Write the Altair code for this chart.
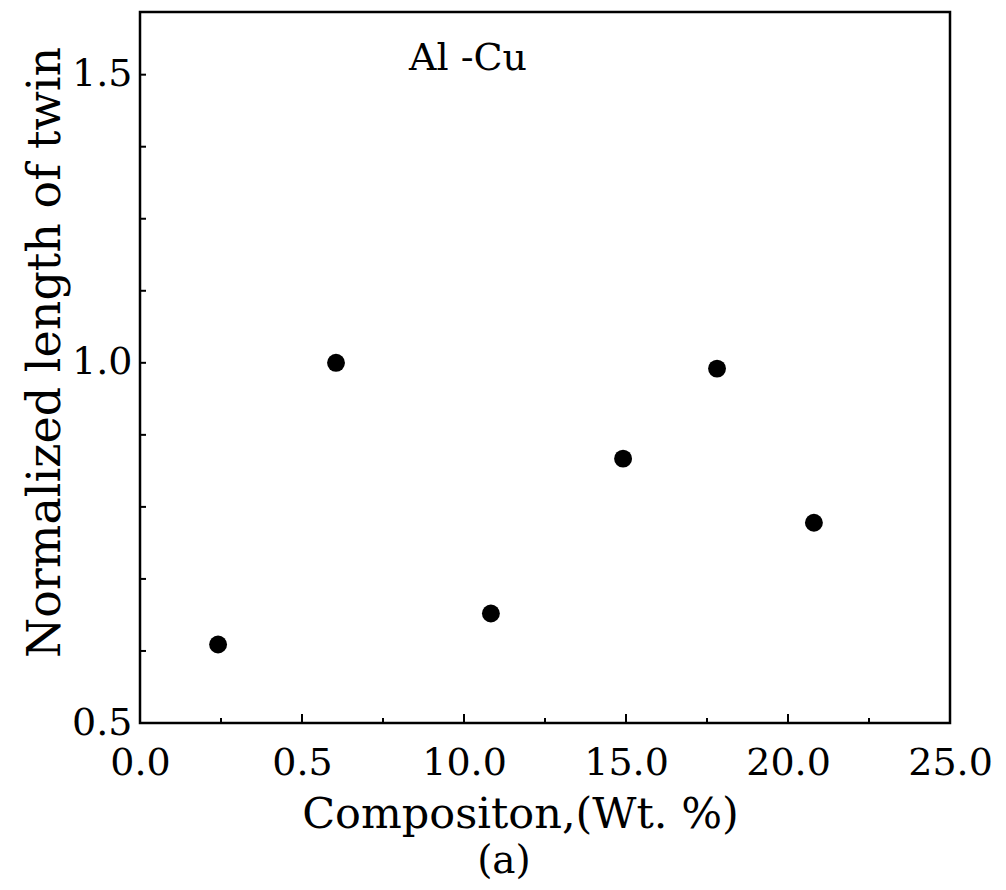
import altair as alt
import pandas as pd

# Data
composition = [2.41, 6.05, 10.83, 14.91, 17.81, 20.80]
norm_length = [0.609, 1.0, 0.652, 0.867, 0.992, 0.778]

x_label_values = [0, 5, 10, 15, 20, 25]
y_label_values = [0.5, 1.0, 1.4]
x_major_ticks = [5, 10, 15, 20]
x_minor_ticks = [2.5, 7.5, 12.5, 17.5, 22.5]
y_tick_values = [0.6, 0.7, 0.8, 0.9, 1.0, 1.1, 1.2, 1.3, 1.4]

W, H = 810, 711
FONT = "DejaVu Serif"

pts = pd.DataFrame({"x": composition, "y": norm_length})
xmaj = pd.DataFrame({"x": x_major_ticks})
xmin = pd.DataFrame({"x": x_minor_ticks})
yt = pd.DataFrame({"y": y_tick_values})

xscale = alt.Scale(domain=[0, 25], nice=False, zero=False)
yscale = alt.Scale(domain=[0.5, 1.487], nice=False, zero=False)

points = alt.Chart(pts).mark_point(filled=True, color="black", opacity=1, size=320).encode(
    x=alt.X("x:Q", scale=xscale, axis=alt.Axis(
        values=x_label_values, ticks=False, domain=False, grid=False,
        labelExpr="datum.value == 5 ? '0.5' : format(datum.value, '.1f')",
        labelFont=FONT, labelFontSize=38, labelColor="black", labelPadding=21,
        labelFlush=False,
        title="Compositon,(Wt. %)", titleFont=FONT, titleFontSize=43,
        titleFontWeight="normal", titleColor="black",
        titleX=380, titleY=104, titleBaseline="alphabetic", titleAlign="center")),
    y=alt.Y("y:Q", scale=yscale, axis=alt.Axis(
        values=y_label_values, ticks=False, domain=False, grid=False,
        labelExpr="datum.value > 1.3 ? '1.5' : format(datum.value, '.1f')",
        labelFont=FONT, labelFontSize=38, labelColor="black", labelPadding=8,
        labelFlush=False,
        title="Normalized length of twin", titleFont=FONT, titleFontSize=46,
        titleFontWeight="normal", titleColor="black",
        titleAngle=270, titleX=-95, titleY=340, titleBaseline="middle", titleAlign="center")),
)

xticks_major = alt.Chart(xmaj).mark_rule(color="black", strokeWidth=2).encode(
    x=alt.X("x:Q", scale=xscale),
    y=alt.value(H),
    y2=alt.value(H - 9),
)
xticks_minor = alt.Chart(xmin).mark_rule(color="black", strokeWidth=2).encode(
    x=alt.X("x:Q", scale=xscale),
    y=alt.value(H),
    y2=alt.value(H - 5),
)

yticks = alt.Chart(yt).mark_rule(color="black", strokeWidth=2).encode(
    y=alt.Y("y:Q", scale=yscale),
    x=alt.value(0),
    x2=alt.value(6),
)

label_df = pd.DataFrame({"t": ["Al -Cu"]})
alcu = alt.Chart(label_df).mark_text(font=FONT, fontSize=38, color="black").encode(
    text="t:N", x=alt.value(328), y=alt.value(47))

a_df = pd.DataFrame({"t": ["(a)"]})
alabel = alt.Chart(a_df).mark_text(font=FONT, fontSize=39, color="black").encode(
    text="t:N", x=alt.value(364), y=alt.value(849))

chart = alt.layer(points, xticks_major, xticks_minor, yticks, alcu, alabel).properties(
    width=W, height=H,
    autosize=alt.AutoSizeParams(type="none"),
    padding={"left": 132, "top": 4, "right": 46, "bottom": 158},
).configure(
    background="white",
    view=alt.ViewConfig(stroke="black", strokeWidth=2.5),
)

chart.save("out.html", embed_options={"renderer": "svg", "actions": False})
